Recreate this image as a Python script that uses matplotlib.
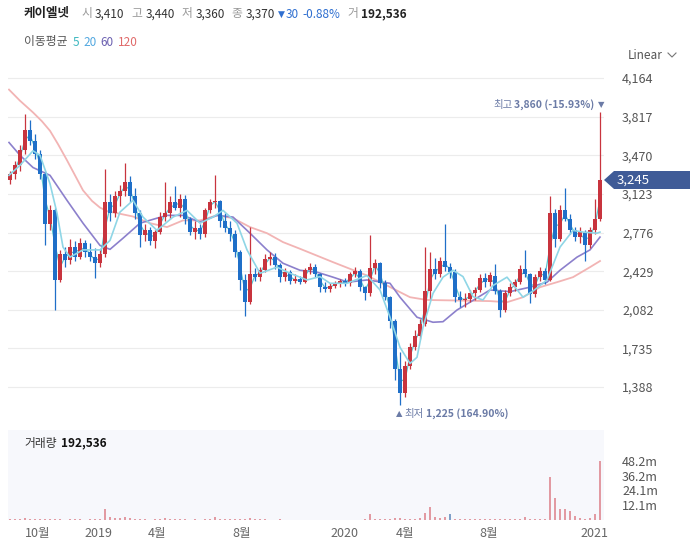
import matplotlib
matplotlib.use('Agg')
import matplotlib.pyplot as plt
import pandas as pd
from matplotlib.patches import Polygon
from matplotlib.lines import Line2D

plt.rcParams['font.family'] = ['Noto Sans CJK KR', 'DejaVu Sans']

# ---------------- data (weekly-sampled candles, trading-day index) ----------------
opens = [3250, 3300, 3380, 3520, 3700, 3600, 3480, 3300, 2850, 2980,
         2350, 2580, 2530, 2650, 2560, 2680, 2600, 2560, 2500, 2580,
         3050, 2950, 3100, 3150, 3230, 3100, 2950, 2750, 2800, 2700,
         2780, 2920, 2950, 3050, 3000, 3080, 2900, 2780, 2820, 2760,
         2980, 3050, 3060, 2880, 2820, 2760, 2600, 2350, 2150, 2400,
         2380, 2440, 2540, 2560, 2480, 2380, 2420, 2340, 2360, 2330,
         2440, 2470, 2400, 2290, 2270, 2300, 2320, 2340, 2320, 2400,
         2430, 2290, 2230, 2460, 2500, 2320, 2200, 1980, 1550, 1330,
         1580, 1750, 1850, 1950, 2250, 2450, 2400, 2520, 2470, 2420,
         2200, 2170, 2180, 2230, 2260, 2370, 2330, 2390, 2250, 2080,
         2230, 2290, 2330, 2450, 2400, 2220, 2380, 2430, 2350, 2950,
         2720, 2980, 2900, 2800, 2740, 2780, 2660, 2800, 2900]
highs = [3330, 3420, 3560, 3845, 3790, 3660, 3520, 3330, 3020, 3000,
         2620, 2650, 2720, 2700, 2730, 2710, 2680, 2640, 2620, 3350,
         3120, 3150, 3200, 3400, 3280, 3180, 2980, 2850, 2830, 2800,
         2960, 3226, 3100, 3190, 3120, 3110, 2920, 2880, 2850, 3000,
         3080, 3290, 3070, 2950, 2880, 2800, 2620, 2400, 2830, 2460,
         2470, 2580, 2600, 2590, 2500, 2460, 2440, 2400, 2390, 2460,
         2500, 2490, 2410, 2330, 2320, 2340, 2360, 2370, 2420, 2470,
         2450, 2300, 2750, 2540, 2510, 2350, 2210, 2000, 1700, 1620,
         1780, 1900, 2000, 2645, 2600, 2550, 2560, 2850, 2500, 2450,
         2250, 2230, 2260, 2290, 2400, 2410, 2420, 2490, 2270, 2260,
         2320, 2360, 2480, 2617, 2410, 2400, 2470, 2460, 3100, 2990,
         3020, 3180, 2940, 2830, 2830, 2800, 2830, 3075, 3860]
lows = [3210, 3260, 3330, 3480, 3560, 3440, 3260, 2660, 2800, 2080,
        2330, 2470, 2490, 2520, 2540, 2560, 2520, 2365, 2470, 2560,
        2880, 2920, 3010, 3100, 3050, 2900, 2650, 2700, 2660, 2640,
        2760, 2880, 2900, 2980, 2920, 2850, 2750, 2720, 2720, 2740,
        2950, 3000, 2830, 2780, 2700, 2560, 2260, 2030, 2130, 2340,
        2340, 2420, 2480, 2450, 2330, 2340, 2310, 2320, 2310, 2320,
        2400, 2380, 2240, 2240, 2240, 2280, 2290, 2300, 2300, 2380,
        2250, 2170, 2210, 2400, 2280, 2170, 1920, 1450, 1225, 1300,
        1550, 1720, 1820, 1940, 2180, 2360, 2380, 2430, 2370, 2150,
        2110, 2110, 2150, 2170, 2240, 2290, 2300, 2220, 2020, 2060,
        2210, 2250, 2310, 2380, 2140, 2200, 2340, 2310, 2340, 2650,
        2700, 2880, 2760, 2700, 2680, 2520, 2640, 2760, 2880]
closes = [3300, 3380, 3520, 3700, 3600, 3480, 3300, 2850, 2980, 2350,
          2580, 2530, 2650, 2560, 2680, 2600, 2560, 2500, 2580, 3050,
          2950, 3100, 3150, 3230, 3100, 2950, 2750, 2800, 2700, 2780,
          2920, 2950, 3050, 3000, 3080, 2900, 2780, 2820, 2760, 2980,
          3050, 3060, 2880, 2820, 2760, 2600, 2350, 2150, 2400, 2380,
          2440, 2540, 2560, 2480, 2380, 2420, 2340, 2360, 2330, 2440,
          2470, 2400, 2290, 2270, 2300, 2320, 2340, 2320, 2400, 2430,
          2290, 2230, 2460, 2500, 2320, 2200, 1980, 1550, 1330, 1580,
          1750, 1850, 1950, 2250, 2450, 2400, 2520, 2470, 2420, 2200,
          2170, 2180, 2230, 2260, 2370, 2330, 2390, 2250, 2080, 2230,
          2290, 2330, 2450, 2400, 2220, 2380, 2430, 2350, 2950, 2720,
          2980, 2900, 2800, 2740, 2780, 2660, 2800, 2900, 3245]
volumes_m = [1.0, 0.6, 0.8, 1.4, 0.9, 0.5, 0.6, 1.0, 0.5, 1.2,
             0.8, 0.4, 0.5, 0.6, 0.7, 0.4, 0.5, 0.8, 0.6, 8.7,
             2.4, 1.6, 1.3, 2.6, 1.5, 1.0, 0.6, 0.5, 0.4, 0.5,
             0.6, 2.0, 0.8, 0.7, 0.5, 0.6, 0.4, 0.5, 0.4, 0.6,
             0.5, 2.4, 0.6, 0.5, 0.6, 0.7, 0.8, 1.2, 1.6, 0.6,
             0.5, 0.6, 0.4, 0.4, 0.5, 0.4, 0.3, 0.3, 0.4, 0.3,
             0.4, 0.3, 0.3, 0.3, 0.3, 0.3, 0.3, 0.3, 0.3, 0.4,
             0.4, 0.5, 4.6, 1.2, 0.6, 0.8, 1.0, 1.4, 1.5, 1.0,
             0.9, 1.0, 1.5, 6.0, 10.6, 2.2, 2.0, 2.4, 4.6, 1.2,
             0.8, 0.6, 0.5, 0.6, 1.2, 0.7, 0.6, 0.8, 1.0, 0.6,
             0.5, 0.6, 1.0, 2.5, 1.0, 0.6, 0.8, 0.7, 35.0, 17.7,
             8.7, 8.7, 7.0, 3.0, 1.5, 1.2, 1.5, 5.0, 48.2]
down_volume_weeks = [88]
day_index = [2 + 5 * k for k in range(len(closes))]

ma20_day = [1, 12, 25, 32, 42, 49, 55, 62, 75, 92, 102, 112, 125, 135, 149, 165, 179,
            192, 205, 215, 229, 239, 252, 269, 282, 299, 312, 322, 339, 359, 372, 382,
            392, 402, 409, 415, 425, 435, 445, 455, 465, 475, 485, 499, 515, 525, 539,
            552, 565, 575, 589, 592]
ma20_val = [3290, 3380, 3510, 3470, 3215, 2950, 2645, 2555, 2620, 2620, 2705, 2960, 3065,
            2915, 2795, 2915, 2975, 2860, 2915, 2975, 2860, 2620, 2410, 2465, 2410, 2350,
            2380, 2320, 2320, 2390, 2260, 2015, 1745, 1600, 1655, 1925, 2230, 2375, 2437,
            2380, 2200, 2170, 2300, 2375, 2195, 2250, 2350, 2645, 2795, 2780, 2770, 2780]
ma60_day = [1, 12, 25, 42, 59, 75, 92, 102, 115, 132, 149, 159, 175, 192, 209, 225, 242,
            259, 275, 292, 309, 325, 340, 359, 382, 392, 409, 425, 435, 449, 462, 482,
            502, 522, 539, 552, 569, 582, 592]
ma60_val = [3585, 3470, 3360, 3290, 3065, 2860, 2660, 2625, 2725, 2860, 2905, 2930, 2930,
            2870, 2930, 2915, 2770, 2620, 2500, 2437, 2420, 2375, 2330, 2350, 2320, 2195,
            2015, 1970, 1975, 2080, 2150, 2260, 2245, 2285, 2330, 2437, 2555, 2620, 2735]
ma120_day = [1, 12, 25, 34, 42, 50, 59, 67, 75, 84, 92, 100, 109, 125, 142, 159, 175, 192,
             209, 225, 242, 259, 275, 292, 325, 359, 379, 402, 419, 452, 482, 499, 515,
             532, 549, 565, 582, 592]
ma120_val = [4060, 3960, 3855, 3775, 3690, 3570, 3425, 3290, 3155, 3060, 3000, 2965, 2950,
             2920, 2860, 2825, 2885, 2885, 2930, 2905, 2825, 2770, 2690, 2630, 2510, 2390,
             2300, 2195, 2170, 2165, 2160, 2150, 2195, 2285, 2330, 2375, 2465, 2520]

price_ticks = [1388, 1735, 2082, 2429, 2776, 3123, 3470, 3817, 4164]
vol_ticks = [12.05, 24.1, 36.15, 48.2]
vol_tick_labels = ['12.1m', '24.1m', '36.2m', '48.2m']
month_day = [30, 90, 149, 234, 336, 397, 481, 586]
month_labels = ['10월', '2019', '4월', '8월', '2020', '4월', '8월', '2021']

UP, DOWN = '#c8343e', '#1f6fc8'

# ---------------- figure ----------------
W, H = 692, 547
fig = plt.figure(figsize=(W / 100, H / 100), dpi=100)
fig.patch.set_facecolor('white')


def fx(x):
    return x / W


def fy(y):
    return 1 - y / H


ax = fig.add_axes([fx(8), fy(428), (604 - 8) / W, (428 - 62) / H])
ax.set_xlim(0, 596)
ax.set_ylim(1020, 4308)
for s in ax.spines.values():
    s.set_visible(False)
ax.set_xticks([])
ax.set_yticks(price_ticks)
ax.set_yticklabels([f'{v:,}' for v in price_ticks])
ax.yaxis.tick_right()
ax.tick_params(axis='y', length=0, pad=13, labelsize=9, labelcolor='#555555')
ax.grid(axis='y', color='#ececec', lw=0.8)
ax.set_axisbelow(True)

# moving averages
ax.plot(ma120_day, ma120_val, color='#f2b4b4', lw=1.3, zorder=2)
ax.plot(ma60_day, ma60_val, color='#8c80cc', lw=1.2, zorder=2)
ma5 = pd.Series(closes).rolling(2, min_periods=1).mean()
ax.plot(day_index, ma5, color='#5cc4d0', lw=0.9, zorder=2)

# candles
for x, o, h, l, c in zip(day_index, opens, highs, lows, closes):
    col = UP if c >= o else DOWN
    ax.vlines(x, l, h, color=col, lw=0.9, zorder=3)
    ax.bar(x, max(abs(c - o), 8), bottom=min(o, c), width=3.6, color=col, zorder=3, lw=0)

ax.plot(ma20_day, ma20_val, color='#8fd6e6', lw=1.2, zorder=4)

# volume panel
vax = fig.add_axes([fx(8), fy(520), (604 - 8) / W, 90 / H])
vax.set_facecolor('#f7f8fc')
vax.set_xlim(0, 596)
vax.set_ylim(0, 73.5)
for s in vax.spines.values():
    s.set_visible(False)
vcols = ['#7f9fc8' if k in down_volume_weeks else '#e29aa2' for k in range(len(volumes_m))]
vax.bar(day_index, volumes_m, width=1.3, color=vcols, lw=0)
vax.set_yticks(vol_ticks)
vax.set_yticklabels(vol_tick_labels)
vax.yaxis.tick_right()
vax.tick_params(axis='y', length=0, pad=13, labelsize=9, labelcolor='#555555')
vax.set_xticks(month_day)
vax.set_xticklabels(month_labels)
vax.tick_params(axis='x', length=0, pad=5, labelsize=9, labelcolor='#666666')

renderer = fig.canvas.get_renderer()


def chain(parts, x0, y, align='left'):
    texts, widths = [], []
    for s, gap, kw in parts:
        t = fig.text(0, fy(y), s, va='center', ha='left', **kw)
        widths.append(t.get_window_extent(renderer).width + gap)
        texts.append(t)
    x = x0 - sum(widths) if align == 'right' else x0
    for t, w in zip(texts, widths):
        t.set_x(fx(x))
        x += w


# header row 1
hdr = [
    ('케이엘넷', 11, dict(fontsize=9, fontweight='bold', color='#222222')),
    ('시', 3, dict(fontsize=8.5, color='#999999')),
    ('3,410', 7, dict(fontsize=8.5, color='#333333')),
    ('고', 3, dict(fontsize=8.5, color='#999999')),
    ('3,440', 7, dict(fontsize=8.5, color='#333333')),
    ('저', 3, dict(fontsize=8.5, color='#999999')),
    ('3,360', 7, dict(fontsize=8.5, color='#333333')),
    ('종', 3, dict(fontsize=8.5, color='#999999')),
    ('3,370', 3, dict(fontsize=8.5, color='#333333')),
    ('▼', 1, dict(fontsize=6.5, color='#2f6fd0', family=['DejaVu Sans'])),
    ('30', 3, dict(fontsize=8.5, color='#2f6fd0')),
    ('-0.88%', 7, dict(fontsize=8.5, color='#2f6fd0')),
    ('거', 3, dict(fontsize=8.5, color='#999999')),
    ('192,536', 0, dict(fontsize=8.5, fontweight='bold', color='#222222')),
]
chain(hdr, 24, 14)

ma_hdr = [
    ('이동평균', 5, dict(fontsize=8.5, color='#555555')),
    ('5', 4, dict(fontsize=8.5, color='#3db8c0')),
    ('20', 4, dict(fontsize=8.5, color='#52a8e0')),
    ('60', 4, dict(fontsize=8.5, color='#6a5fb0')),
    ('120', 0, dict(fontsize=8.5, color='#e06a6a')),
]
chain(ma_hdr, 24, 42)

fig.text(fx(628), fy(55), 'Linear', fontsize=8.5, color='#555555', va='center', ha='left')
fig.add_artist(Line2D([fx(668), fx(672), fx(676)], [fy(53), fy(57), fy(53)],
                      transform=fig.transFigure, color='#777777', lw=0.8))

ann = '#6b7ba6'
chain([
    ('최고', 2, dict(fontsize=7.5, color=ann)),
    ('3,860 (-15.93%)', 3, dict(fontsize=7.5, color=ann, fontweight='bold')),
    ('▼', 0, dict(fontsize=6, color=ann, family=['DejaVu Sans'])),
], 604, 105, align='right')
chain([
    ('▲', 2, dict(fontsize=6, color=ann, family=['DejaVu Sans'])),
    ('최저', 2, dict(fontsize=7.5, color=ann)),
    ('1,225 (164.90%)', 0, dict(fontsize=7.5, color=ann, fontweight='bold')),
], 396, 414)

chain([
    ('거래량', 4, dict(fontsize=8.5, color='#333333')),
    ('192,536', 0, dict(fontsize=8.5, fontweight='bold', color='#111111')),
], 24, 443)

# current price tag
tag = Polygon([(fx(604), fy(180)), (fx(614), fy(171)), (fx(690), fy(171)),
               (fx(690), fy(189)), (fx(614), fy(189))],
              closed=True, transform=fig.transFigure, facecolor='#3f5b97',
              edgecolor='none', zorder=10)
fig.add_artist(tag)
fig.text(fx(617), fy(180), f'{closes[-1]:,}', fontsize=9.5, color='white',
         va='center', ha='left', zorder=11)

fig.savefig('out.png', dpi=100)
